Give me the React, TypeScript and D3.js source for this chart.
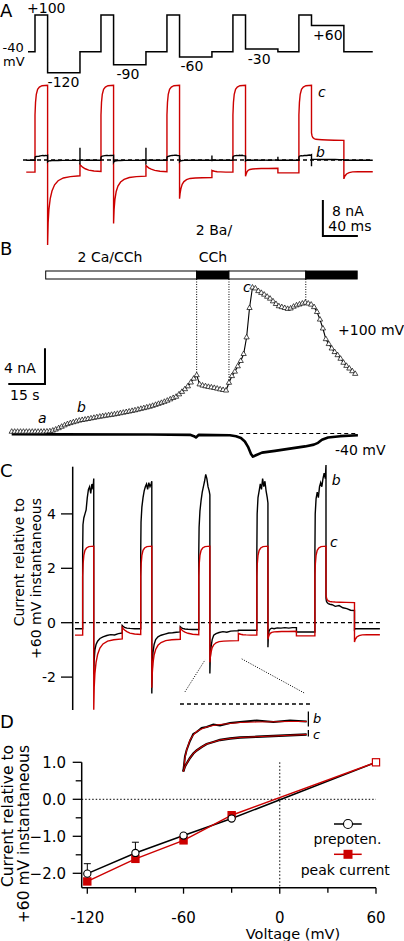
import React from 'react';
import * as d3 from 'd3';

// ---------------- Panel A / C : voltage protocol ----------------
const holdV = -40;
const prepulseV = 100;
const stepV = [-120, -90, -60, -30, 60];
const stepLabels = ['-120', '-90', '-60', '-30', '+60'];
const pulseOnsets = [8, 83.4, 158.8, 234.2, 309.6]; // ms
const pulseDur = 14.4; // ms
const stepDur = 37; // ms
const sweepEnd = 394; // ms

// ---------------- trace c (red), nA ----------------
const redHold0 = -2.7;
const redPulseT = [0, 0.6, 1.5, 3, 5, 8, 14.4];
const redPulse = [10, 12.8, 14.6, 15.7, 16.2, 16.5, 16.6];
const redTailT = [0, 0.6, 1.5, 3, 5, 8, 12, 18, 26, 37];
const redTail = [
  [-18.9, -14, -11, -8.6, -6.9, -5.5, -4.6, -4.0, -3.7, -3.5],
  [-14.1, -11, -8.8, -7.0, -5.8, -4.9, -4.3, -3.9, -3.7, -3.6],
  [-8.6, -7.5, -6.4, -5.4, -4.8, -4.35, -4.1, -4.0, -3.95, -3.9],
  [-3.6, -3.2, -2.7, -2.3, -2.1, -2.0, -1.95, -1.9, -1.9, -1.85],
  [6.0, 5.4, 5.0, 4.75, 4.6, 4.55, 4.5, 4.45, 4.4, 4.35],
];
const backT = [0, 1, 3, 6, 10, 16, 24.4];
const redBack = [
  [-1.0, -1.25, -1.6, -1.95, -2.25, -2.45, -2.55],
  [-1.2, -1.4, -1.75, -2.05, -2.3, -2.5, -2.6],
  [-2.3, -2.4, -2.5, -2.6, -2.65, -2.7, -2.7],
  [-2.85, -2.85, -2.85, -2.85, -2.85, -2.85, -2.85],
  [-4.2, -3.6, -3.1, -2.8, -2.65, -2.6, -2.6],
];
const redNorm = 5.9; // nA = +60 mV instantaneous for c

// ---------------- trace b (black), relative to +60 mV instantaneous ----------------
const blkHold0 = -0.22;
const blkPulseT = [0, 0.4, 1.5, 3, 4.5, 6, 7.5, 9, 10.5, 12, 13.5, 14.4];
const blkPulse = [
  [2.6, 3.6, 3.85, 4.0, 4.15, 4.6, 4.9, 5.0, 4.75, 5.1, 4.9, 5.3],
  [2.6, 3.7, 4.25, 4.6, 4.85, 5.0, 5.1, 4.9, 5.15, 5.0, 5.1, 5.2],
  [2.6, 3.5, 4.1, 4.5, 4.8, 5.0, 5.2, 5.45, 5.3, 5.0, 4.85, 4.7],
  [2.6, 4.0, 4.6, 4.85, 5.1, 4.9, 5.3, 5.0, 5.2, 4.85, 4.6, 4.4],
  [2.6, 4.0, 4.55, 4.8, 4.6, 5.0, 5.15, 5.0, 5.3, 5.5, 5.3, 5.8],
];
const blkTailT = [0, 0.5, 1.5, 3, 5, 8, 12, 17, 22, 27, 32, 37];
const blkTail = [
  [-1.9, -1.4, -1.0, -0.8, -0.68, -0.58, -0.52, -0.47, -0.44, -0.45, -0.4, -0.38],
  [-2.6, -1.8, -1.1, -0.8, -0.62, -0.52, -0.46, -0.42, -0.38, -0.37, -0.35, -0.34],
  [-1.87, -1.3, -0.9, -0.62, -0.46, -0.4, -0.36, -0.33, -0.35, -0.31, -0.3, -0.3],
  [-0.9, -0.5, -0.3, -0.23, -0.2, -0.22, -0.19, -0.2, -0.18, -0.2, -0.18, -0.18],
  [0.9, 0.8, 0.74, 0.7, 0.68, 0.66, 0.6, 0.63, 0.55, 0.52, 0.46, 0.45],
];
const blkBack = [
  [-0.1, -0.13, -0.17, -0.2, -0.21, -0.22, -0.22],
  [-0.15, -0.18, -0.21, -0.23, -0.24, -0.25, -0.25],
  [-0.28, -0.28, -0.28, -0.28, -0.28, -0.28, -0.28],
  [-0.34, -0.34, -0.34, -0.34, -0.34, -0.34, -0.34],
  [-0.25, -0.22, -0.22, -0.22, -0.22, -0.22, -0.22],
];
const blkNorm = 0.2; // nA = +60 mV instantaneous for b
const blkSpikeBack = [[2.7, -1.0], [2.7, -1.0], [1.0, -0.3], [0.7, -0.2], [0, 0]]; // nA, capacitive artifacts
const blkSpikePulseEnd = [0, 0, 0, 0, -1.4]; // nA

// ---------------- Panel B : time course ----------------
const sweepInterval = 1.2; // s
const ba100 = [
  0.2, 0.2, 0.2, 0.2, 0.2, 0.2, 0.2, 0.2, 0.2, 0.2, 0.2, 0.21, 0.22, 0.25, 0.33, 0.45, 0.6, 0.76,
  0.92, 1.06, 1.17, 1.27, 1.36, 1.45, 1.52, 1.57, 1.63, 1.7, 1.76, 1.83, 1.89, 1.94, 2.0, 2.05,
  2.1, 2.15, 2.21, 2.28, 2.34, 2.41, 2.47, 2.54, 2.61, 2.69, 2.77, 2.85, 2.93, 3.01, 3.11, 3.22,
  3.33, 3.44, 3.56, 3.69, 3.84, 3.99, 4.13, 4.4, 4.68, 4.98, 5.3, 5.73, 6.16, 6.55, 5.52, 5.39,
  5.31, 5.24, 5.18, 5.12, 5.04, 4.96, 4.89, 4.83, 5.7, 6.45, 6.95, 7.55, 8.15, 8.93, 10.8, 14.1,
  16.4, 16.3, 16.0, 15.8, 15.6, 15.37, 15.15, 14.85, 14.55, 14.3, 14.2, 14.1, 14.0, 14.05, 14.25,
  14.4, 14.5, 14.6, 14.7, 14.6, 14.48, 14.2, 13.65, 12.8, 11.8, 10.6, 10.05, 9.55, 9.15, 8.8, 8.4,
  7.95, 7.6, 7.3, 7.0, 6.7,
];
const holdT = [0, 19.7, 56.5, 72.9, 74.5, 75.3, 76.5, 89.2, 91.7, 93.7, 95.3, 96.6, 97.8, 98.6, 99.8, 102.3, 107.6, 113.7, 119.9, 123.5, 125.2, 126.8, 129.3, 134.2, 141.5];
const holdI = [-0.08, -0.1, -0.12, -0.15, -0.3, -0.45, -0.15, -0.2, -0.3, -0.5, -0.9, -1.5, -2.3, -2.6, -2.45, -2.15, -1.95, -1.7, -1.45, -1.25, -1.05, -0.7, -0.45, -0.3, -0.2];
const solT = [13.9, 75.6, 88.8, 120.2, 141.2]; // s, solution change times
const solBa = [false, true, false, true];
const dropI = [6.57, 5.26, 14.8]; // nA where dotted lines meet the +100 trace

// ---------------- Panel D inset (step to -60 mV) ----------------
const insetT = [0, 0.5, 1, 2, 3, 4, 5.5, 7, 9, 11, 14, 17, 22, 27, 32, 37];
const insetB = [-1.35, -1.05, -0.92, -0.74, -0.6, -0.56, -0.48, -0.46, -0.41, -0.43, -0.38, -0.36, -0.33, -0.36, -0.33, -0.35];
const insetBfit = [-1.35, -1.08, -0.92, -0.72, -0.62, -0.55, -0.5, -0.46, -0.43, -0.41, -0.39, -0.37, -0.36, -0.355, -0.35, -0.35];
const insetC = [-1.35, -1.25, -1.19, -1.08, -0.99, -0.93, -0.86, -0.8, -0.76, -0.72, -0.69, -0.67, -0.655, -0.64, -0.625, -0.61];
const insetTicks = [[-0.15, -0.45], [-0.52, -0.65]];

// ---------------- Panel D : I-V ----------------
const ivV = [-120, -90, -60, -30, 60];
const prepot = [-2.01, -1.45, -0.98, -0.52, 1.0];
const prepotErr = [0.27, 0.29, 0.05, 0, 0];
const peakI = [-2.22, -1.61, -1.11, -0.43, 1.0];
const dXTicks = [-120, -60, 0, 60];
const dXMinor = [-90, -30, 30];
const dYTicks = [1, 0, -1, -2];
const dYMinor = [0.5, -0.5, -1.5];
const cYTicks = [4, 2, 0, -2];

type P = [number, number];

function sweepPoints(
  pre: number,
  pulseT: number[], pulseV: number[][],
  tailT: number[], tailV: number[][],
  bT: number[], bV: number[][],
  scale: number,
  spikeBack?: number[][], spikePulse?: number[]
): P[] {
  const pts: P[] = [[-2, pre * scale]];
  let prev = pre * scale;
  pulseOnsets.forEach((on, k) => {
    pts.push([on, prev]);
    pulseT.forEach((t, j) => pts.push([on + t, pulseV[k][j] * scale]));
    const s = on + pulseDur;
    if (spikePulse && spikePulse[k] !== 0) pts.push([s, spikePulse[k]]);
    tailT.forEach((t, j) => pts.push([s + t, tailV[k][j] * scale]));
    const b = s + stepDur;
    if (spikeBack && spikeBack[k][0] !== 0) {
      pts.push([b, spikeBack[k][0]], [b, spikeBack[k][1]]);
    }
    const next = k < pulseOnsets.length - 1 ? pulseOnsets[k + 1] : sweepEnd;
    bT.forEach((t, j) => pts.push([Math.min(b + t, next), bV[k][j] * scale]));
    prev = bV[k][bV[k].length - 1] * scale;
  });
  pts.push([sweepEnd, prev]);
  return pts;
}

const FONT = 'DejaVu Sans, Verdana, sans-serif';
const RED = '#cc0000';

export default function App() {
  // ---------- Panel A scales ----------
  const xA = d3.scaleLinear().domain([0, 40]).range([28, 63]);
  const yAV = d3.scaleLinear().domain([-40, 100]).range([51.7, 15]);
  const yAI = d3.scaleLinear().domain([0, 8]).range([160, 124]);

  const protoPts: P[] = [[0, holdV]];
  pulseOnsets.forEach((on, k) => {
    protoPts.push(
      [on, holdV], [on, prepulseV], [on + pulseDur, prepulseV],
      [on + pulseDur, stepV[k]], [on + pulseDur + stepDur, stepV[k]], [on + pulseDur + stepDur, holdV]
    );
  });
  protoPts.push([sweepEnd, holdV]);
  const protoPath = d3.line<P>().x(d => xA(d[0])).y(d => yAV(d[1]))(protoPts) || '';

  const redPulseAll = stepV.map(() => redPulse);
  const redPts = sweepPoints(redHold0, redPulseT, redPulseAll, redTailT, redTail, backT, redBack, 1);
  const blkPtsA = sweepPoints(blkHold0, blkPulseT, blkPulse, blkTailT, blkTail, backT, blkBack, blkNorm, blkSpikeBack, blkSpikePulseEnd);
  const lineA = d3.line<P>().x(d => xA(d[0])).y(d => yAI(d[1]));
  const barNA = yAI(0) - yAI(8); // 8 nA in px
  const barMs = xA(40) - xA(0); // 40 ms in px

  // ---------- Panel C scales ----------
  const xC = d3.scaleLinear().domain([0, 394]).range([76.5, 379.9]);
  const yC = d3.scaleLinear().domain([0, 2]).range([622.7, 568.3]);
  const redPtsC = sweepPoints(redHold0, redPulseT, redPulseAll, redTailT, redTail, backT, redBack, 1 / redNorm);
  const blkPtsC = sweepPoints(blkHold0, blkPulseT, blkPulse, blkTailT, blkTail, backT, blkBack, 1);
  const lineC = d3.line<P>().x(d => xC(d[0])).y(d => yC(d[1]));

  // ---------- Panel B scales ----------
  const xB = d3.scaleLinear().domain([0, 15]).range([11.7, 48.4]);
  const yB = d3.scaleLinear().domain([0, 4]).range([433.5, 397.9]);
  const baPts: P[] = ba100.map((v, i) => [i * sweepInterval, v]);
  const lineB = d3.line<P>().x(d => xB(d[0])).y(d => yB(d[1]));
  const holdPts: P[] = holdT.map((t, i) => [t, holdI[i]]);
  const tri = d3.symbol().type(d3.symbolTriangle).size(12)() || '';

  // ---------- Panel D scales ----------
  const xD = d3.scaleLinear().domain([-120, 60]).range([87.3, 376]);
  const yD = d3.scaleLinear().domain([-2, 1]).range([873.3, 762.3]);
  const lineD = d3.line<number>().x((_, i) => xD(ivV[i])).y(d => yD(d));
  const xIn = d3.scaleLinear().domain([0, 37]).range([183.3, 306.7]);
  const yIn = d3.scaleLinear().domain([0, -1]).range([704, 754]);
  const lineIn = (vals: number[]) => d3.line<number>().x((_, i) => xIn(insetT[i])).y(d => yIn(d))(vals) || '';

  const dXAxisY = 887.7;
  const dYAxisX = 81.7;

  return (
    <svg width={404} height={941} viewBox="0 0 404 941"
      style={{ position: 'absolute', left: 0, top: 0, background: 'white', display: 'block' }}
      fontFamily={FONT}>
      <rect x={0} y={0} width={404} height={941} fill="white" />

      {/* ================= Panel A ================= */}
      <text x={0} y={17} fontSize={18}>A</text>
      <path d={protoPath} fill="none" stroke="black" strokeWidth={1.5} />
      <text x={27} y={12.5} fontSize={14}>+100</text>
      <text x={2.5} y={52} fontSize={13}>-40</text>
      <text x={3} y={66} fontSize={13}>mV</text>
      {stepV.map((v, k) => {
        const x = xA(pulseOnsets[k] + pulseDur);
        const offs = [0, 3, 1, 2.3, 1.6];
        return (
          <text key={k} x={x + offs[k]} y={yAV(v) + 14.5} fontSize={14}>{stepLabels[k]}</text>
        );
      })}
      <line x1={xA(-5.7)} x2={xA(sweepEnd)} y1={yAI(0)} y2={yAI(0)} stroke="black" strokeWidth={1.3} strokeDasharray="4,3" />
      <path d={lineA(redPts) || ''} fill="none" stroke={RED} strokeWidth={1.4} />
      <path d={lineA(blkPtsA) || ''} fill="none" stroke="black" strokeWidth={1.4} />
      <text x={318} y={96.5} fontSize={14} fontStyle="italic">c</text>
      <text x={316} y={156.5} fontSize={14} fontStyle="italic">b</text>
      {/* scale bar A */}
      <path d={`M${xA(337)},${236 - barNA} V236 H${xA(337) + barMs}`}
        fill="none" stroke="black" strokeWidth={2} />
      <text x={332} y={215.5} fontSize={14}>8 nA</text>
      <text x={328.3} y={230.5} fontSize={14}>40 ms</text>

      {/* ================= Panel B ================= */}
      <text x={0} y={255} fontSize={18}>B</text>
      <text x={110} y={262} fontSize={14} textAnchor="middle">2 Ca/CCh</text>
      <text x={214} y={235} fontSize={14} textAnchor="middle">2 Ba/</text>
      <text x={213} y={262} fontSize={14} textAnchor="middle">CCh</text>
      {solBa.map((ba, i) => (
        <rect key={i} x={xB(solT[i])} y={271} width={xB(solT[i + 1]) - xB(solT[i])} height={8}
          fill={ba ? 'black' : 'white'} stroke="black" strokeWidth={1} />
      ))}
      {[1, 2, 3].map((i, j) => (
        <line key={i} x1={xB(solT[i])} x2={xB(solT[i])} y1={279} y2={yB(dropI[j])}
          stroke="black" strokeWidth={1} strokeDasharray="1,1.5" />
      ))}
      <line x1={xB(93)} x2={xB(141.5)} y1={yB(0)} y2={yB(0)} stroke="black" strokeWidth={1.2} strokeDasharray="4,3" />
      <path d={lineB(holdPts) || ''} fill="none" stroke="black" strokeWidth={2.6} strokeLinejoin="round" />
      <path d={lineB(baPts) || ''} fill="none" stroke="black" strokeWidth={1.1} />
      {baPts.map((d, i) => (
        <path key={i} d={tri} transform={`translate(${xB(d[0])},${yB(d[1])})`}
          fill="white" stroke="black" strokeWidth={0.7} />
      ))}
      <text x={38} y={423} fontSize={14} fontStyle="italic">a</text>
      <text x={77} y={411.5} fontSize={14} fontStyle="italic">b</text>
      <text x={243} y={292} fontSize={14} fontStyle="italic">c</text>
      <text x={338} y={335} fontSize={14}>+100 mV</text>
      <text x={335} y={455} fontSize={14}>-40 mV</text>
      {/* scale bar B */}
      <path d={`M${xB(13.6)},${yB(0) - 85.2} V${yB(0) - 49.6} H${xB(13.6) - (xB(15) - xB(0))}`}
        fill="none" stroke="black" strokeWidth={2} />
      <text x={4} y={373} fontSize={14}>4 nA</text>
      <text x={10} y={400} fontSize={14}>15 s</text>

      {/* ================= Panel C ================= */}
      <text x={0} y={477} fontSize={18}>C</text>
      <line x1={72.7} x2={72.7} y1={466.7} y2={710} stroke="black" strokeWidth={1.5} />
      {cYTicks.map(v => (
        <g key={v}>
          <line x1={61} x2={72.7} y1={yC(v)} y2={yC(v)} stroke="black" strokeWidth={1.3} />
          <text x={56} y={yC(v) + 5} fontSize={14} textAnchor="end">{v}</text>
        </g>
      ))}
      <text transform={`translate(24,498) rotate(-90)`} fontSize={14} textAnchor="end">Current relative to</text>
      <text transform={`translate(41,498) rotate(-90)`} fontSize={14} textAnchor="end">+60 mV instantaneous</text>
      <line x1={xC(-2)} x2={xC(sweepEnd)} y1={yC(0)} y2={yC(0)} stroke="black" strokeWidth={1.3} strokeDasharray="4,3" />
      <path d={lineC(blkPtsC) || ''} fill="none" stroke="black" strokeWidth={1.4} />
      <path d={lineC(redPtsC) || ''} fill="none" stroke={RED} strokeWidth={1.4} />
      <text x={331.7} y={485} fontSize={14} fontStyle="italic">b</text>
      <text x={330} y={547} fontSize={14} fontStyle="italic">c</text>
      {/* zoom lines toward inset */}
      <line x1={xC(140.9)} y1={yC(-2.54)} x2={xC(166.9)} y2={yC(-1.37)} stroke="black" strokeWidth={1} strokeDasharray="1,1.5" />
      <line x1={xC(214.6)} y1={yC(-1.33)} x2={xC(296.8)} y2={yC(-2.6)} stroke="black" strokeWidth={1} strokeDasharray="1,1.5" />

      {/* ================= Panel D ================= */}
      <text x={0} y={728} fontSize={18}>D</text>
      {/* inset */}
      <line x1={xIn(-1)} x2={xIn(38)} y1={yIn(0)} y2={yIn(0)} stroke="black" strokeWidth={1.3} strokeDasharray="4,3" />
      <path d={lineIn(insetB)} fill="none" stroke="black" strokeWidth={2} />
      <path d={lineIn(insetBfit)} fill="none" stroke={RED} strokeWidth={1.1} />
      <path d={lineIn(insetC)} fill="none" stroke="black" strokeWidth={2.3} />
      <path d={lineIn(insetC)} fill="none" stroke={RED} strokeWidth={1.1} />
      {insetTicks.map((tk, i) => (
        <line key={i} x1={xIn(37.5)} x2={xIn(37.5)} y1={yIn(tk[0])} y2={yIn(tk[1])} stroke="black" strokeWidth={1.3} />
      ))}
      <text x={313} y={723} fontSize={13} fontStyle="italic">b</text>
      <text x={313} y={739} fontSize={13} fontStyle="italic">c</text>

      {/* axes */}
      <line x1={dYAxisX} x2={dYAxisX} y1={yD(1)} y2={dXAxisY} stroke="black" strokeWidth={1.5} />
      <line x1={dYAxisX} x2={xD(60)} y1={dXAxisY} y2={dXAxisY} stroke="black" strokeWidth={1.5} />
      {dYTicks.map(v => (
        <g key={v}>
          <line x1={dYAxisX - 9} x2={dYAxisX} y1={yD(v)} y2={yD(v)} stroke="black" strokeWidth={1.3} />
          <text x={66} y={yD(v) + 5.5} fontSize={15} textAnchor="end">{d3.format('.1f')(v)}</text>
        </g>
      ))}
      {dYMinor.map(v => (
        <line key={v} x1={dYAxisX - 6} x2={dYAxisX} y1={yD(v)} y2={yD(v)} stroke="black" strokeWidth={1.3} />
      ))}
      {dXTicks.map(v => (
        <g key={v}>
          <line x1={xD(v)} x2={xD(v)} y1={dXAxisY} y2={dXAxisY + 6} stroke="black" strokeWidth={1.3} />
          <text x={xD(v)} y={922.5} fontSize={15} textAnchor="middle">{v}</text>
        </g>
      ))}
      {dXMinor.map(v => (
        <line key={v} x1={xD(v)} x2={xD(v)} y1={dXAxisY} y2={dXAxisY + 5} stroke="black" strokeWidth={1.3} />
      ))}
      <text x={293} y={938.5} fontSize={14.5} textAnchor="middle">Voltage (mV)</text>
      <text transform={`translate(12.5,745) rotate(-90)`} fontSize={15.5} textAnchor="end">Current relative to</text>
      <text transform={`translate(28.5,745) rotate(-90)`} fontSize={15.5} textAnchor="end">+60 mV instantaneous</text>
      {/* dotted zero lines */}
      <line x1={dYAxisX} x2={xD(60)} y1={yD(0)} y2={yD(0)} stroke="black" strokeWidth={1} strokeDasharray="1.5,2" />
      <line x1={xD(0)} x2={xD(0)} y1={yD(1)} y2={dXAxisY} stroke="black" strokeWidth={1} strokeDasharray="1.5,2" />
      {/* error bars */}
      {prepot.map((v, i) => prepotErr[i] > 0 ? (
        <g key={i}>
          <line x1={xD(ivV[i])} x2={xD(ivV[i])} y1={yD(v)} y2={yD(v + prepotErr[i])} stroke="black" strokeWidth={1} />
          <line x1={xD(ivV[i]) - 3.5} x2={xD(ivV[i]) + 3.5} y1={yD(v + prepotErr[i])} y2={yD(v + prepotErr[i])} stroke="black" strokeWidth={1} />
        </g>
      ) : null)}
      {/* series */}
      <path d={lineD(prepot) || ''} fill="none" stroke="black" strokeWidth={1.5} />
      <path d={lineD(peakI) || ''} fill="none" stroke={RED} strokeWidth={1.5} />
      {peakI.map((v, i) => (
        <rect key={i} x={xD(ivV[i]) - 3.6} y={yD(v) - 3.6} width={7.2} height={7.2}
          fill={i === peakI.length - 1 ? 'white' : RED} stroke={RED} strokeWidth={1.2} />
      ))}
      {prepot.map((v, i) => i === prepot.length - 1 ? null : (
        <circle key={i} cx={xD(ivV[i])} cy={yD(v)} r={3.6} fill="white" stroke="black" strokeWidth={1.1} />
      ))}
      {/* legend */}
      <line x1={334} x2={361.7} y1={824} y2={824} stroke="black" strokeWidth={1.5} />
      <circle cx={348} cy={824} r={4.5} fill="white" stroke="black" strokeWidth={1.1} />
      <text x={347.5} y={844} fontSize={14} textAnchor="middle">prepoten.</text>
      <line x1={334} x2={361.7} y1={854.3} y2={854.3} stroke={RED} strokeWidth={1.5} />
      <rect x={343.5} y={849.8} width={9} height={9} fill={RED} />
      <text x={345.3} y={874.5} fontSize={14} textAnchor="middle">peak current</text>
    </svg>
  );
}
